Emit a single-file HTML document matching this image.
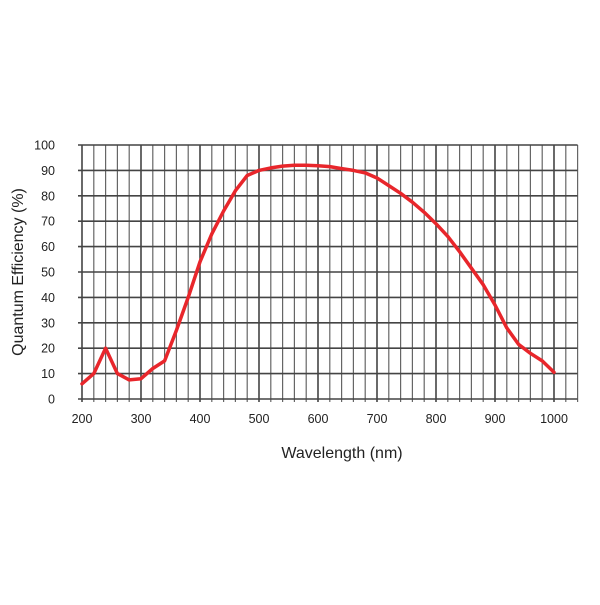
<!DOCTYPE html>
<html><head><meta charset="utf-8"><style>body{margin:0;background:#fff}svg text{font-family:"Liberation Sans",sans-serif;fill:#222}</style></head>
<body>
<svg width="600" height="600">
<g id="grid"></g>
<g id="ticks"></g>
<path id="line" fill="none" stroke="#e8262b" stroke-width="3.5" stroke-linejoin="round" stroke-linecap="round"/>
<text x="342" y="458" font-size="16" text-anchor="middle">Wavelength (nm)</text>
<text transform="translate(23,272) rotate(-90)" font-size="16" text-anchor="middle">Quantum Efficiency (%)</text>
</svg>
<script>
const wavelengths=[200,220,240,260,280,300,320,340,360,380,400,420,440,460,480,500,520,540,560,580,600,620,640,660,680,700,720,740,760,780,800,820,840,860,880,900,920,940,960,980,1000];
const qe=[6,10,20,10,7.5,8,12,15,27,40,54,65,74,82,88,90,91,91.7,92,92,91.8,91.5,90.7,90,89,87,84,81,77.5,73.5,69,64,58,51.5,45,37,28,21.5,18,15,10.5];
const xTicks=[200,300,400,500,600,700,800,900,1000];
const yTicks=[0,10,20,30,40,50,60,70,80,90,100];
const X=v=>82+(v-200)*0.59, Y=v=>399-v*2.54;
const NS="http://www.w3.org/2000/svg";
const g=document.getElementById('grid'), t=document.getElementById('ticks');
function ln(x1,y1,x2,y2,w,c){const l=document.createElementNS(NS,'line');l.setAttribute('x1',x1);l.setAttribute('y1',y1);l.setAttribute('x2',x2);l.setAttribute('y2',y2);l.setAttribute('stroke',c);l.setAttribute('stroke-width',w);


g.appendChild(l);}
for(let v=200;v<=1040;v+=20){ln(X(v),Y(100),X(v),Y(0)+3,v%100===0?1.6:1.2,v%100===0?'#444':'#666');}
for(let v=0;v<=100;v+=10){ln(X(200)-4,Y(v),X(1040),Y(v),1.6,'#444');}
xTicks.forEach(v=>{const e=document.createElementNS(NS,'text');e.setAttribute('x',X(v));e.setAttribute('y',423);e.setAttribute('font-size','12.5');e.setAttribute('text-anchor','middle');e.textContent=v;


t.appendChild(e);});
yTicks.forEach(v=>{const e=document.createElementNS(NS,'text');e.setAttribute('x',55);e.setAttribute('y',Y(v)+4.5);e.setAttribute('font-size','12.5');e.setAttribute('text-anchor','end');e.textContent=v;


t.appendChild(e);});
document.getElementById('line').setAttribute('d',wavelengths.map((w,i)=>(i?'L':'M')+X(w).toFixed(1)+','+Y(qe[i]).toFixed(1)).join(''));
</script>
</body></html>
